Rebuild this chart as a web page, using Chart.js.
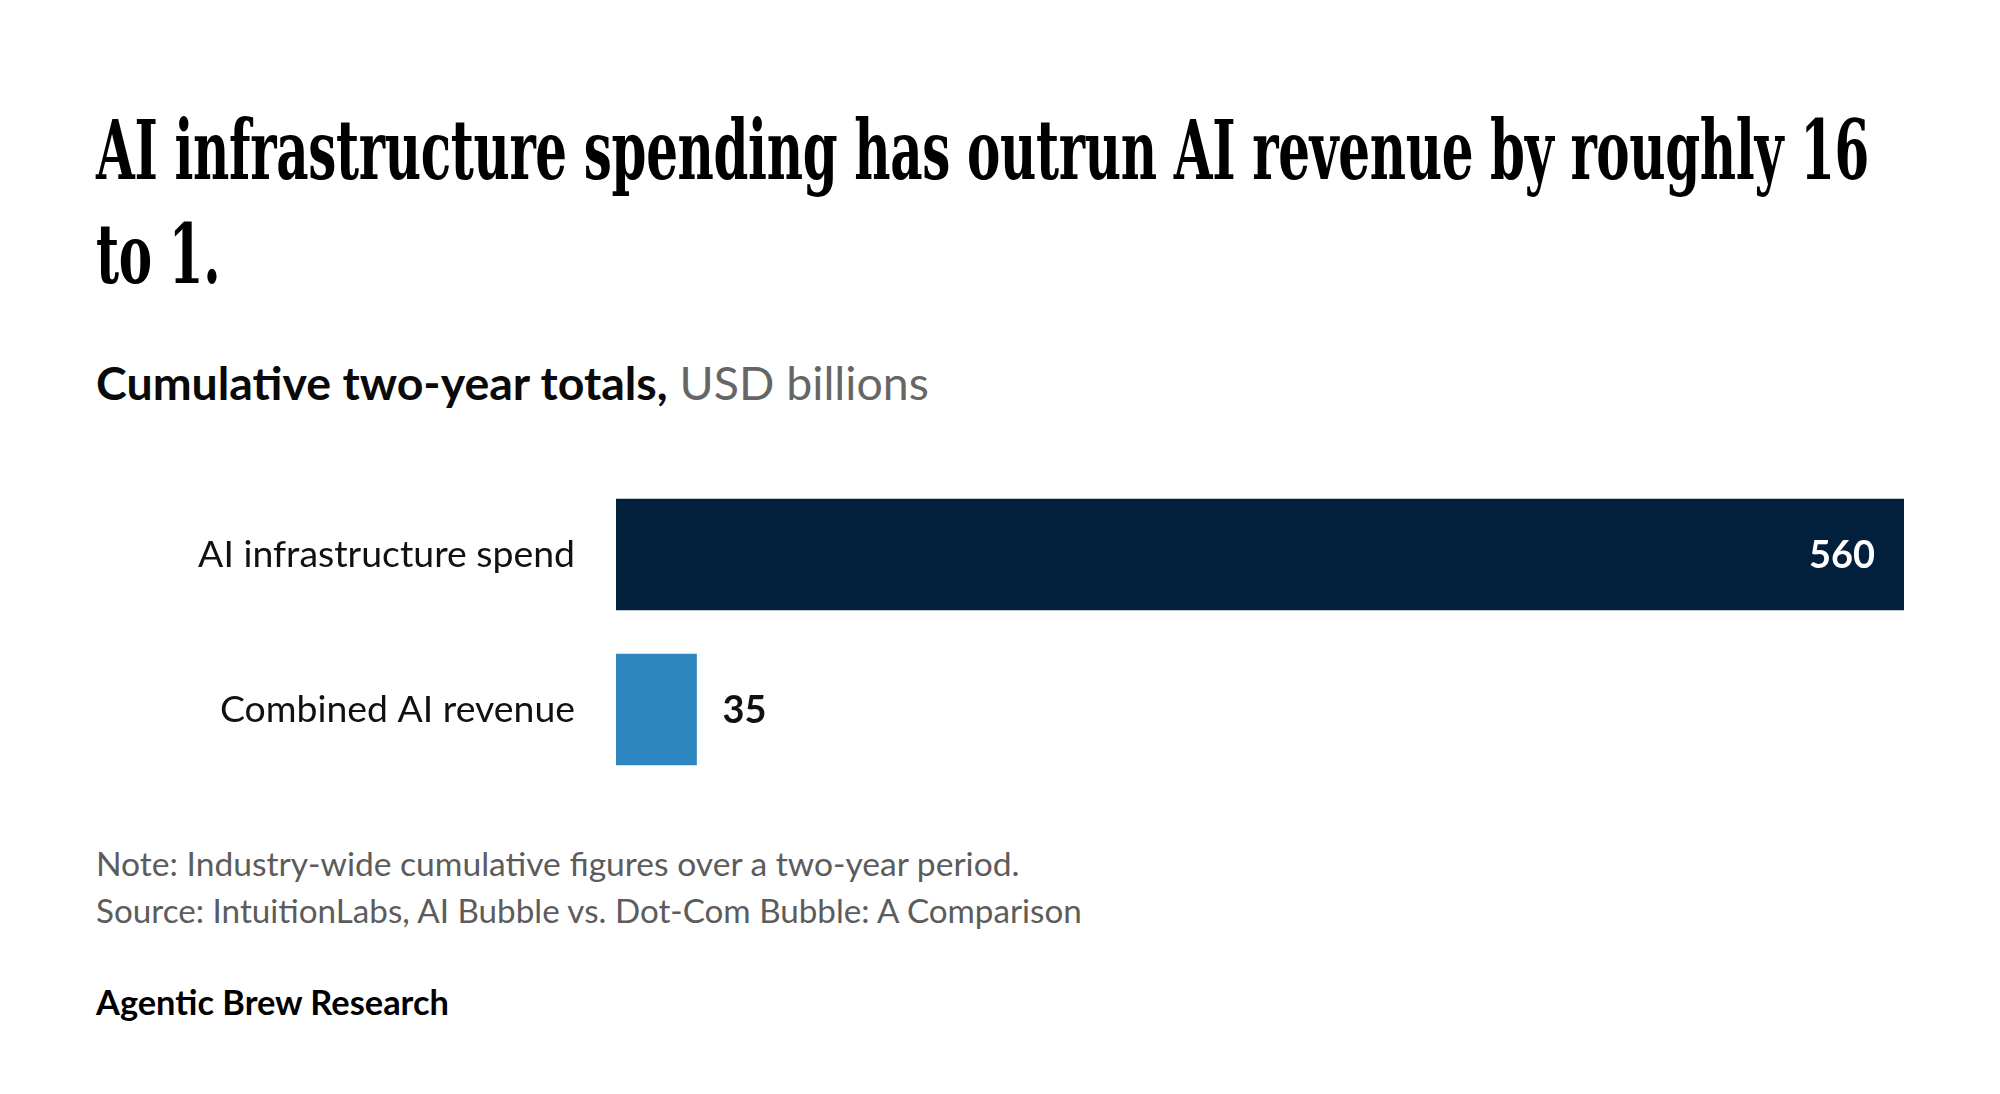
<!DOCTYPE html>
<html>
<head>
<meta charset="utf-8">
<script src="https://cdn.jsdelivr.net/npm/chart.js@4.4.1/dist/chart.umd.min.js"></script>
<style>
html,body{margin:0;padding:0;background:#fff;width:2000px;height:1094px;overflow:hidden;}
.t{position:absolute;left:96px;top:0;white-space:nowrap;margin:0;transform-origin:0 0;}
#title{font-family:"DejaVu Serif Condensed","DejaVu Serif",serif;font-stretch:condensed;font-weight:bold;color:#000;font-size:82px;line-height:104px;letter-spacing:-0.5px;}
#subtitle{font-family:Lato,sans-serif;color:#000;}
#subtitle b{font-weight:bold;color:#0a0a0a;}
#subtitle span.u{font-weight:normal;color:#666;}
.note{font-family:Lato,sans-serif;color:#5c5c5c;}
#brand{font-family:Lato,sans-serif;font-weight:bold;color:#000;}
.m{display:inline-block;width:0;height:0;vertical-align:baseline;}
#chartBox{position:absolute;left:0;top:477px;width:1904px;height:310px;}
</style>
</head>
<body>
<h1 class="t" id="title"><span id="tl1">AI infrastructure spending has outrun AI revenue by roughly 16</span><i class="m" id="mt"></i><br>to 1.</h1>
<div class="t" id="subtitle"><b>Cumulative two-year totals,</b> <span class="u">USD billions</span><i class="m"></i></div>
<div class="t note" id="note">Note: Industry-wide cumulative figures over a two-year period.<i class="m"></i></div>
<div class="t note" id="source">Source: IntuitionLabs, AI Bubble vs. Dot-Com Bubble: A Comparison<i class="m"></i></div>
<div class="t" id="brand">Agentic Brew Research<i class="m"></i></div>
<div id="chartBox"><canvas id="c" width="1904" height="310"></canvas></div>
<script>
// ---- data ----
const categories = ["AI infrastructure spend", "Combined AI revenue"];
const values = [560, 35];
const barColors = ["#02203C", "#2E86C1"];
const axisMax = 560;

function placeBaseline(el, baseline){
  const m = el.querySelector('.m');
  const cur = m.getBoundingClientRect().top;
  const top = parseFloat(el.style.top || 0);
  el.style.top = (top + baseline - cur) + 'px';
}
function fitFont(el, target){
  el.style.fontSize = '100px';
  const w = el.getBoundingClientRect().width;
  el.style.fontSize = (100 * target / w) + 'px';
}
function measureFont(text, weight, family, target){
  const cv = document.createElement('canvas').getContext('2d');
  cv.font = weight + ' 100px ' + family;
  return 100 * target / cv.measureText(text).width;
}

async function init(){
  try { await document.fonts.load('20px Lato'); await document.fonts.load('bold 20px Lato'); } catch(e){}
  // title
  const title = document.getElementById('title');
  const w1 = document.getElementById('tl1').getBoundingClientRect().width;
  title.style.transform = 'scaleX(' + (1773 / w1) + ')';
  placeBaseline(title, 179);

  const sub = document.getElementById('subtitle'); fitFont(sub, 833); placeBaseline(sub, 400);
  const note = document.getElementById('note'); fitFont(note, 924); placeBaseline(note, 876);
  const src = document.getElementById('source'); fitFont(src, 986); placeBaseline(src, 923);
  const brand = document.getElementById('brand'); fitFont(brand, 353); placeBaseline(brand, 1015);

  const tickSize = measureFont(categories[0], 'normal', 'Lato', 377);
  const valSize = measureFont('560', 'bold', 'Lato', 66);

  const valueLabels = {
    id: 'valueLabels',
    afterDatasetsDraw(chart){
      const ctx = chart.ctx;
      const meta = chart.getDatasetMeta(0);
      meta.data.forEach((bar, i) => {
        const v = values[i];
        const inside = Math.abs(bar.x - bar.base) > 200;
        ctx.save();
        ctx.font = 'bold ' + valSize + 'px Lato';
        ctx.textBaseline = 'alphabetic';
        const yy = bar.y + valSize * 0.36;
        if (inside) { ctx.fillStyle = '#ffffff'; ctx.textAlign = 'right'; ctx.fillText(String(v), bar.x - 29, yy); }
        else { ctx.fillStyle = '#111111'; ctx.textAlign = 'left'; ctx.fillText(String(v), bar.x + 26, yy); }
        ctx.restore();
      });
    }
  };

  new Chart(document.getElementById('c'), {
    type: 'bar',
    data: {
      labels: categories,
      datasets: [{ data: values, backgroundColor: barColors, borderWidth: 0, barThickness: 111 }]
    },
    options: {
      indexAxis: 'y',
      responsive: false,
      animation: false,
      devicePixelRatio: 1,
      layout: { padding: 0 },
      plugins: { legend: { display: false }, tooltip: { enabled: false }, title: { display: false } },
      scales: {
        x: { display: false, min: 0, max: axisMax },
        y: {
          grid: { display: false, drawTicks: false },
          border: { display: false },
          ticks: { padding: 41, color: '#111111', font: { family: 'Lato', size: tickSize, weight: 'normal' } },
          afterFit(scale){ scale.width = 616; scale.paddingTop = 0; scale.paddingBottom = 0; }
        }
      }
    },
    plugins: [valueLabels]
  });
}
init();
</script>
</body>
</html>
